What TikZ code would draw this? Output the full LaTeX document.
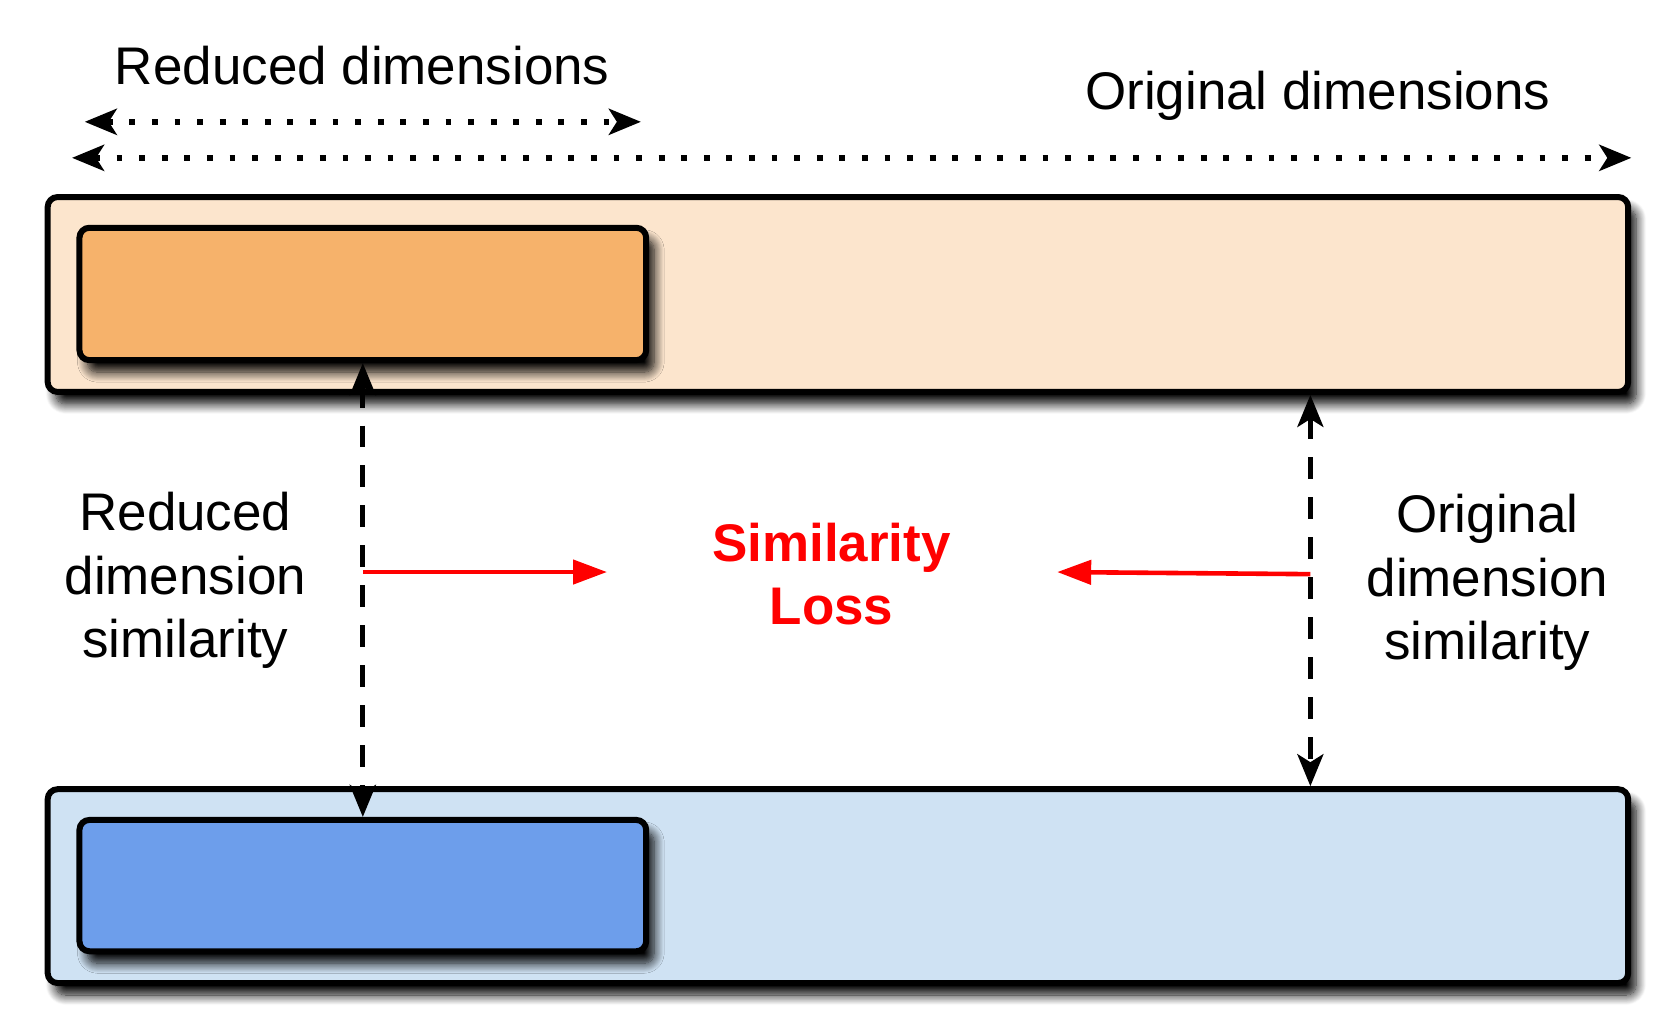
\documentclass[tikz,border=0pt]{standalone}
\usepackage{fontspec}
\setmainfont{Liberation Sans}
\usepackage{tikz}
\usetikzlibrary{arrows.meta,fit,shadows.blur}
\definecolor{peachlight}{HTML}{FCE5CD}
\definecolor{peach}{HTML}{F6B26B}
\definecolor{bluelight}{HTML}{CFE2F3}
\definecolor{bluemid}{HTML}{6D9EEB}

\begin{document}
\begin{tikzpicture}[x=0.53pt, y=-0.53pt,
    box/.style={draw, line width=3pt, rounded corners=5pt, inner sep=0pt,
      blur shadow={shadow xshift=4pt, shadow yshift=-6pt, shadow blur radius=5pt, shadow opacity=100, shadow blur steps=12}},
    lbl/.style={font=\fontsize{26.5}{31.8}\selectfont, align=center},
    span/.style={line width=2.9pt, dash pattern=on 2.9pt off 8.4pt, {Stealth[length=16pt, width=13pt, inset=4pt]}-{Stealth[length=16pt, width=13pt, inset=4pt]}},
    link/.style={line width=2.4pt, dash pattern=on 11pt off 9pt, {Stealth[length=16pt, width=13pt, inset=4pt]}-{Stealth[length=16pt, width=13pt, inset=4pt]}},
    losslink/.style={red, line width=2.3pt, -{Triangle[length=17pt, width=12pt]}}]
    \useasboundingbox (0,0) rectangle (1568,959);

    \node [box, fill=peachlight, fit={(45,186) (1537,370)}] (topouter) {};
    \node [box, fill=peach, fit={(75,215) (610,340)}] (topinner) {};
    \node [box, fill=bluelight, fit={(45,745) (1537,928)}] (botouter) {};
    \node [box, fill=bluemid, fit={(75,774) (610,898)}] (botinner) {};

    \node [lbl, anchor=base] (reddims) at (342,79.5) {Reduced dimensions};
    \node [lbl, anchor=base] (origdims) at (1244,103.5) {Original dimensions};
    \coordinate (redL) at (80,115);
    \coordinate (redR) at (605,115);
    \coordinate (origL) at (68,149);
    \coordinate (origR) at (1540,149);
    \draw [span] (redL) -- (redR);
    \draw [span] (origL) -- (origR);

    \node [lbl] (redsim) at (175,548) {Reduced\\dimension\\similarity};
    \node [lbl] (origsim) at (1404,550) {Original\\dimension\\similarity};
    \node [lbl, red, font=\fontsize{26.5}{31.8}\selectfont\bfseries] (loss) at (785,542) {Similarity\\Loss};

    \coordinate (rx) at (1237,555);
    \draw [link] (topinner.south) -- (botinner.north);
    \draw [link] (topouter.south -| rx) -- (botouter.north -| rx);

    \coordinate (lossL) at (573,540);
    \coordinate (lossR) at (998,540);
    \draw [losslink] (topinner.south |- lossL) -- (lossL);
    \draw [losslink] (rx |- 0,542) -- (lossR);
\end{tikzpicture}
\end{document}
